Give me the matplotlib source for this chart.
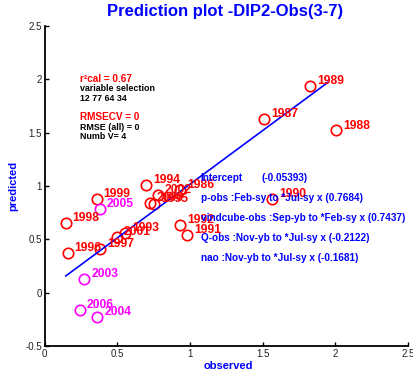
"""Prediction plot: predicted vs observed, with calibration fit line."""
import matplotlib
matplotlib.use("Agg")
import matplotlib.pyplot as plt

plt.rcParams["font.family"] = ["Liberation Sans", "DejaVu Sans"]

# calibration years (red)
cal_years = ["1986", "1987", "1988", "1989", "1990", "1991", "1992", "1993",
             "1994", "1995", "1996", "1997", "1998", "1999", "2000", "2001", "2002"]
cal_obs = [0.932, 1.512, 2.006, 1.829, 1.568, 0.982, 0.932, 0.553,
           0.698, 0.753, 0.158, 0.381, 0.145, 0.358, 0.725, 0.496, 0.778]
cal_pred = [0.962, 1.632, 1.520, 1.938, 0.875, 0.544, 0.631, 0.563,
            1.007, 0.835, 0.375, 0.413, 0.657, 0.875, 0.844, 0.522, 0.916]

# validation years (magenta)
val_years = ["2003", "2004", "2005", "2006"]
val_obs = [0.273, 0.362, 0.381, 0.243]
val_pred = [0.131, -0.225, 0.781, -0.163]

# regression line end points
fit_x = [0.145, 1.949]
fit_y = [0.156, 1.970]

stats_lines = ["r\u00b2cal = 0.67", "variable selection", "12 77 64 34",
               "", "RMSECV = 0", "RMSE (all) = 0", "Numb V= 4"]
stats_colors = ["red", "black", "black", "black", "red", "black", "black"]
stats_sizes = [7.2, 6.4, 6.4, 6.4, 7.2, 6.4, 6.4]

intercept = "(-0.05393)"
model_terms = ["p-obs :Feb-sy to *Jul-sy", "vindcube-obs :Sep-yb to *Feb-sy",
               "Q-obs :Nov-yb to *Jul-sy", "nao :Nov-yb to *Jul-sy"]
model_coefs = ["(0.7684)", "(0.7437)", "(-0.2122)", "(-0.1681)"]

fig = plt.figure(figsize=(4.14, 3.76), dpi=100)
ax = fig.add_axes([0.108, 0.080, 0.877, 0.851])

ax.plot(cal_obs, cal_pred, "o", ms=7.5, mfc="none", mec="red", mew=1.2)
ax.plot(val_obs, val_pred, "o", ms=7.5, mfc="none", mec="magenta", mew=1.2)
ax.plot(fit_x, fit_y, color="blue", lw=1.2)

for years, xs, ys, col in [(cal_years, cal_obs, cal_pred, "red"),
                           (val_years, val_obs, val_pred, "magenta")]:
    for yr, x, y in zip(years, xs, ys):
        ax.annotate(yr, (x, y), xytext=(5, 3.5), textcoords="offset points",
                    color=col, fontsize=8.7, fontweight="bold",
                    ha="left", va="center")

for i, (line, col, fs) in enumerate(zip(stats_lines, stats_colors, stats_sizes)):
    ax.text(0.243, 2.0 - i * 0.0895, line, color=col, fontsize=fs,
            fontweight="bold", ha="left", va="center")

ax.text(1.074, 1.079, "Intercept", color="blue", fontsize=7.2,
        fontweight="bold", ha="left", va="center")
ax.text(1.494, 1.079, intercept, color="blue", fontsize=7.2,
        fontweight="bold", ha="left", va="center")
for i, (term, coef) in enumerate(zip(model_terms, model_coefs)):
    ax.text(1.074, 0.891 - i * 0.1875, f"{term} x {coef}", color="blue",
            fontsize=7.2, fontweight="bold", ha="left", va="center")

ax.set_xlim(0, 2.5)
ax.set_ylim(-0.5, 2.5)
ax.set_xticks([0, 0.5, 1, 1.5, 2, 2.5])
ax.set_xticklabels(["0", "0.5", "1", "1.5", "2", "2.5"])
ax.set_yticks([-0.5, 0, 0.5, 1, 1.5, 2, 2.5])
ax.set_yticklabels(["-0.5", "0", "0.5", "1", "1.5", "2", "2.5"])
ax.tick_params(direction="in", length=3, width=1.0, labelsize=7,
               labelcolor="#222222", pad=2)
for side in ["top", "right"]:
    ax.spines[side].set_visible(False)
for side in ["left", "bottom"]:
    ax.spines[side].set_linewidth(1.3)

ax.set_xlabel("observed", color="blue", fontsize=8, fontweight="bold", va="center")
ax.xaxis.set_label_coords(0.505, -0.0625)
ax.set_ylabel("predicted", color="blue", fontsize=8, fontweight="bold", va="center")
ax.yaxis.set_label_coords(-0.087, 0.5)
ax.set_title("Prediction plot -DIP2-Obs(3-7)", color="blue", fontsize=12,
             fontweight="bold", x=0.497, y=1.044, va="center", pad=0)

fig.savefig("out.png", dpi=100)
